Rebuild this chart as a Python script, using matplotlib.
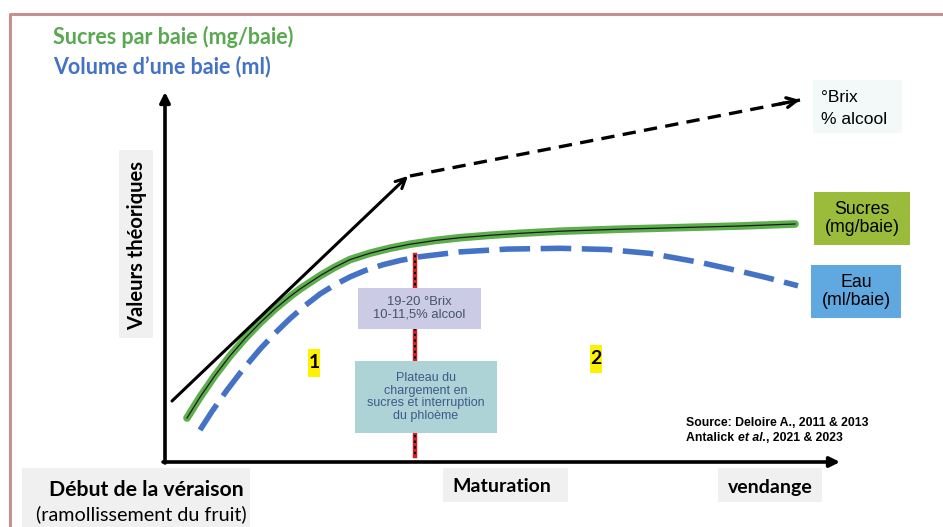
import matplotlib
matplotlib.use("Agg")
import matplotlib.pyplot as plt
from matplotlib.patches import Rectangle

# ---- data (chart coordinates, pixel-like units of the scheme) ----
sugar_x = [187, 200, 215, 230, 245, 260, 275, 290, 300, 320, 335, 350, 370, 390, 410,
           435, 460, 490, 520, 560, 620, 680, 740, 795]
sugar_y = [418, 397.2, 375.4, 355.9, 338.5, 322.9, 308.9, 296.5, 289, 275.8, 267.1, 259.6,
           253.2, 248.2, 244.2, 240.5, 237.7, 235.3, 233.3, 231.2, 229.2, 227.6, 226, 224]
water_x = [200, 212, 227, 243, 260, 275, 290, 305, 320, 335, 350, 365, 383, 400, 420,
           460, 507, 560, 607, 650, 700, 740, 767, 798]
water_y = [430, 411.4, 390.1, 369.3, 349.2, 333.2, 318.6, 305.6, 294, 284.7, 276.9, 270.6,
           264.7, 260.5, 256.7, 251.9, 249.1, 248.3, 249.5, 253.4, 262.4, 271.2, 277.7, 285.8]
tangent_x = [172, 408]
tangent_y = [401, 176]
trend_x = [410, 800]
trend_y = [176, 100]
plateau_x = 415
plateau_y = [255, 456]

title_sugar = "Sucres par baie (mg/baie)"
title_water = "Volume d\u2019une baie (ml)"
ylabel = "Valeurs théoriques"
xlabels = ["Maturation", "vendange"]

W, H = 943, 527
fig = plt.figure(figsize=(W / 100, H / 100), dpi=100)
ax = fig.add_axes([0, 0, 1, 1])
ax.set_xlim(0, W)
ax.set_ylim(H, 0)
ax.axis("off")

SANS = ["Liberation Sans", "DejaVu Sans"]
CAL = ["Lato", "DejaVu Sans"]

# frame
ax.plot([10, 10, W], [H, 14, 14], color="#C49090", lw=2.2, solid_capstyle="butt")

# titles
ax.text(53, 37, title_sugar, color="#5BA852", fontsize=15.5, fontweight="bold", family=CAL, va="center")
ax.text(53, 67, title_water, color="#4472C4", fontsize=15.5, fontweight="bold", family=CAL, va="center")

# axes arrows
ax.annotate("", xy=(165, 92), xytext=(165, 463),
            arrowprops=dict(arrowstyle="-|>,head_length=0.6,head_width=0.3", lw=2.6, color="black", shrinkA=0, shrinkB=0))
ax.annotate("", xy=(840, 462), xytext=(163, 462),
            arrowprops=dict(arrowstyle="-|>,head_length=0.6,head_width=0.3", lw=2.6, color="black", shrinkA=0, shrinkB=0))

# y label
ax.add_patch(Rectangle((119, 150), 34, 188, facecolor="#F0F0F0", edgecolor="none"))
ax.text(137, 245, ylabel, rotation=90, fontsize=14.5, fontweight="bold", family=CAL, ha="center", va="center")

# bottom labels
ax.add_patch(Rectangle((22, 468), 228, 62, facecolor="#F0F0F0", edgecolor="none"))
ax.text(146, 490, "Début de la véraison", fontsize=15.3, fontweight="bold", family=CAL, ha="center", va="center")
ax.text(141, 514, "(ramollissement du fruit)", fontsize=14.2, family=CAL, ha="center", va="center")
ax.add_patch(Rectangle((443, 468), 125, 34, facecolor="#F0F0F0", edgecolor="none"))
ax.text(502, 487, xlabels[0], fontsize=14, fontweight="bold", family=CAL, ha="center", va="center")
ax.add_patch(Rectangle((718, 468), 104, 34, facecolor="#F0F0F0", edgecolor="none"))
ax.text(770, 487, xlabels[1], fontsize=14, fontweight="bold", family=CAL, ha="center", va="center")

# tangent arrows
ax.annotate("", xy=(tangent_x[1], tangent_y[1]), xytext=(tangent_x[0], tangent_y[0]),
            arrowprops=dict(arrowstyle="->,head_length=0.7,head_width=0.35", lw=2.2, color="black", shrinkA=0, shrinkB=0))
ax.plot(trend_x, trend_y, color="black", lw=2.4, dashes=(4, 2.5))
ax.annotate("", xy=(trend_x[1], trend_y[1]), xytext=(trend_x[1] - 20, trend_y[1] + 3.9),
            arrowprops=dict(arrowstyle="->,head_length=0.7,head_width=0.35", lw=2.4, color="black", shrinkA=0, shrinkB=0))

# Brix box
ax.add_patch(Rectangle((813, 80), 89, 53, facecolor="#F3F8F8", edgecolor="none"))
ax.text(821, 97, "°Brix", fontsize=12.5, family=SANS, va="center")
ax.text(821, 119, "% alcool", fontsize=12.5, family=SANS, va="center")

# sugar curve
ax.plot(sugar_x, sugar_y, color="#5DAE4C", lw=5.5, solid_capstyle="round", solid_joinstyle="round")
ax.plot(sugar_x, sugar_y, color="#1a1a1a", lw=0.9, solid_joinstyle="round")

# water curve
ax.plot(water_x, water_y, color="#4472C4", lw=4, dashes=(5.5, 1.9), solid_capstyle="butt")

# plateau line
ax.plot([plateau_x, plateau_x], plateau_y, color="#D42020", lw=3.2, zorder=2)
ax.plot([plateau_x, plateau_x], plateau_y, color="black", lw=1.5, dashes=(1.1, 1.6), zorder=2.1)

# annotation boxes
ax.add_patch(Rectangle((358, 288), 123, 41, facecolor="#CBCBE6", edgecolor="none", zorder=3))
ax.text(419.5, 308.5, "19-20 °Brix\n10-11,5% alcool", fontsize=9.4, family=SANS, color="#44546A",
        ha="center", va="center", linespacing=1.1, zorder=4)
ax.add_patch(Rectangle((355, 361), 142, 72, facecolor="#AED3D6", edgecolor="none", zorder=3))
ax.text(426, 397, "Plateau du\nchargement en\nsucres et interruption\ndu phloème", fontsize=9, family=SANS,
        color="#3E5A8A", ha="center", va="center", linespacing=1.1, zorder=4)

# phase numbers
for num, xx, yy in [("1", 314, 363), ("2", 596, 359)]:
    ax.add_patch(Rectangle((xx - 6, yy - 14), 12, 28, facecolor="#FFF200", edgecolor="none"))
    ax.text(xx, yy, num, fontsize=14, fontweight="bold", family=CAL, ha="center", va="center")

# legend boxes
ax.add_patch(Rectangle((814, 192), 96, 53, facecolor="#9BBB3B", edgecolor="none"))
ax.text(862, 218.5, "Sucres\n(mg/baie)", fontsize=12.8, family=SANS, ha="center", va="center", linespacing=1.15)
ax.add_patch(Rectangle((811, 265), 90, 53, facecolor="#60A8E0", edgecolor="none"))
ax.text(856, 291.5, "Eau\n(ml/baie)", fontsize=12.8, family=SANS, ha="center", va="center", linespacing=1.15)

# source
fs = 8.8
ax.text(686, 423, "Source: Deloire A., 2011 & 2013", fontsize=fs, fontweight="bold", family=SANS, va="center")
t1 = ax.text(686, 438, "Antalick ", fontsize=fs, fontweight="bold", family=SANS, va="center")
fig.canvas.draw()
r = fig.canvas.get_renderer()
bb = t1.get_window_extent(r)
x2 = ax.transData.inverted().transform((bb.x1, bb.y0))[0]
t2 = ax.text(x2, 438, "et al.", fontsize=fs, fontweight="bold", style="italic", family=SANS, va="center")
bb2 = t2.get_window_extent(r)
x3 = ax.transData.inverted().transform((bb2.x1, bb2.y0))[0]
ax.text(x3, 438, ", 2021 & 2023", fontsize=fs, fontweight="bold", family=SANS, va="center")

fig.savefig("out.png", dpi=100)
